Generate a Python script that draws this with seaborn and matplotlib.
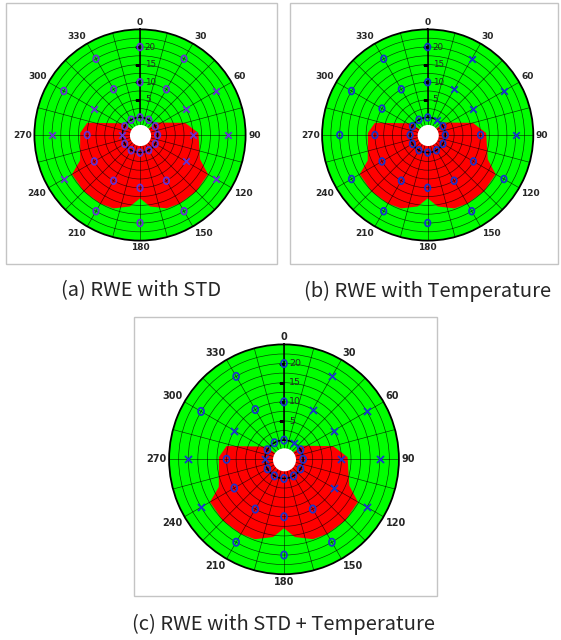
import numpy as np
import pandas as pd
import matplotlib
matplotlib.use('Agg')
import matplotlib.pyplot as plt
import seaborn as sns
from matplotlib.patches import Rectangle

sns.set_style('white')
plt.rcParams['font.family'] = ['DejaVu Sans']

# 측정 각도(도)와 링 반경
angles = [0, 30, 60, 90, 120, 150, 180, 210, 240, 270, 300, 330]
rings = [0, 10, 20]

# 패널별 판정 결과 (링 반경별, 각도 순서)
a_r0 = list('OOOOOOOOOXOO')
a_r10 = list('OOXXXOOOOOXO')
a_r20 = list('OOXXXOOOXXOO')

b_r0 = list('OXOOOOOOOOOO')
b_r10 = list('OXXOOOOOOOOO')
b_r20 = list('OXXXOOOOOOOO')

c_r0 = list('OXOOOOOOOXOO')
c_r10 = list('OXXXXOOOOOXO')
c_r20 = list('OXXXXOOOXXOO')

# 빨간 영역 경계 (각도, 반경) - 세 패널 공통
red_theta = [0, 53, 75, 88, 112, 120, 135, 150, 160, 172, 180,
             188, 200, 210, 225, 240, 247, 272, 283, 305]
red_r = [-5, 0.9, 8.3, 11.6, 13.4, 17.3, 17.6, 17.5, 17.2, 15.5, 13.0,
         15.5, 17.2, 17.5, 17.6, 17.3, 13.5, 12.0, 10.4, 0.8]

captions = ['(a) RWE with STD', '(b) RWE with Temperature',
            '(c) RWE with STD + Temperature']
marker_colors = ['#6430d4', '#1632cc', '#1a34cc']

W, H = 561, 640
fig = plt.figure(figsize=(W / 100, H / 100), dpi=100)


def px_axes(cx, cy, R):
    return [(cx - R) / W, 1 - (cy + R) / H, 2 * R / W, 2 * R / H]


def px_box(x0, y0, x1, y1):
    fig.add_artist(Rectangle((x0 / W, 1 - y1 / H), (x1 - x0) / W, (y1 - y0) / H,
                             transform=fig.transFigure, fill=False,
                             ec='#c4c4c4', lw=1.0))


# 'O' 마커 (세로로 약간 긴 타원)
tt = np.linspace(0, 2 * np.pi, 41)
o_marker = np.column_stack([0.8 * np.sin(tt), np.cos(tt)])


def draw_panel(ax, r0, r10, r20, mcolor, scale=1.0):
    ax.set_theta_zero_location('N')
    ax.set_theta_direction(-1)
    ax.set_facecolor('#00ff00')
    ax.set_axisbelow(False)

    ax.fill(np.deg2rad(red_theta), red_r, color='#ff0000', lw=0, zorder=1)

    circ = np.linspace(0, 2 * np.pi, 200)
    ax.fill_between(circ, -5, -2, color='white', lw=0, zorder=3)
    ax.plot(circ, np.zeros_like(circ), color='k', lw=1.1, zorder=3.5)
    ax.plot([0, 0], [0, 25], color='k', lw=1.1, zorder=3.5)

    # 반경 눈금
    for v in [5, 10, 15, 20]:
        ax.plot([0], [v], marker=0, ms=3.5, mew=0.9, color='k', ls='none', zorder=3.5)
        ax.annotate(str(v), xy=(0, v), xytext=(3.5, 0), textcoords='offset points',
                    fontsize=6.3 * scale, va='center', ha='left', zorder=5)

    df = pd.DataFrame({
        'theta': np.deg2rad(angles * 3),
        'r': [rings[0]] * 12 + [rings[1]] * 12 + [rings[2]] * 12,
        'mark': r0 + r10 + r20,
    })
    sns.scatterplot(data=df[df['mark'] == 'O'], x='theta', y='r', marker=o_marker,
                    s=24 * scale ** 2, color=mcolor, facecolor='none', edgecolor=mcolor,
                    linewidth=1.25, zorder=4, ax=ax)
    sns.scatterplot(data=df[df['mark'] == 'X'], x='theta', y='r', marker='x',
                    s=22 * scale ** 2, color=mcolor, linewidth=1.3, zorder=4, ax=ax)
    ax.set_xlabel('')
    ax.set_ylabel('')

    ax.set_ylim(-5, 25)
    ax.set_yticks(np.arange(2.5, 25, 2.5))
    ax.set_yticklabels([])
    ax.tick_params(axis='y', length=0)
    deg = np.arange(0, 360, 15)
    ax.set_xticks(np.deg2rad(deg))
    ax.set_xticklabels([])

    # 각도 라벨: 원 바깥쪽에 모서리 기준으로 배치
    for d in angles:
        s, c = np.sin(np.deg2rad(d)), np.cos(np.deg2rad(d))
        ha = 'left' if s > 0.2 else ('right' if s < -0.2 else 'center')
        va = 'bottom' if c > 0.2 else ('top' if c < -0.2 else 'center')
        ax.annotate(str(d), xy=(np.deg2rad(d), 25), xytext=(1.8 * s, 1.8 * c),
                    textcoords='offset points', ha=ha, va=va,
                    fontsize=6.5 * scale, fontweight='bold', annotation_clip=False)

    ax.grid(True, color='k', lw=0.5, alpha=0.7)
    ax.spines['polar'].set_color('k')
    ax.spines['polar'].set_linewidth(1.3)


# 패널 테두리
px_box(6, 3, 277, 264)
px_box(290, 3, 558, 264)
px_box(134, 317, 437, 596)

ax_a = fig.add_axes(px_axes(140, 135, 105.6), projection='polar')
draw_panel(ax_a, a_r0, a_r10, a_r20, marker_colors[0])
ax_b = fig.add_axes(px_axes(427.7, 135, 105.6), projection='polar')
draw_panel(ax_b, b_r0, b_r10, b_r20, marker_colors[1])
ax_c = fig.add_axes(px_axes(284, 459.3, 114.9), projection='polar')
draw_panel(ax_c, c_r0, c_r10, c_r20, marker_colors[2], scale=1.08)

cap_font = ['Noto Sans CJK KR', 'DejaVu Sans']
fig.text(141 / W, 1 - 291 / H, captions[0], ha='center', va='center',
         fontsize=14.5, family=cap_font, fontweight='light')
fig.text(428 / W, 1 - 291 / H, captions[1], ha='center', va='center',
         fontsize=14.5, family=cap_font, fontweight='light')
fig.text(284 / W, 1 - 624 / H, captions[2], ha='center', va='center',
         fontsize=14.5, family=cap_font, fontweight='light')

fig.savefig('out.png', dpi=100)
